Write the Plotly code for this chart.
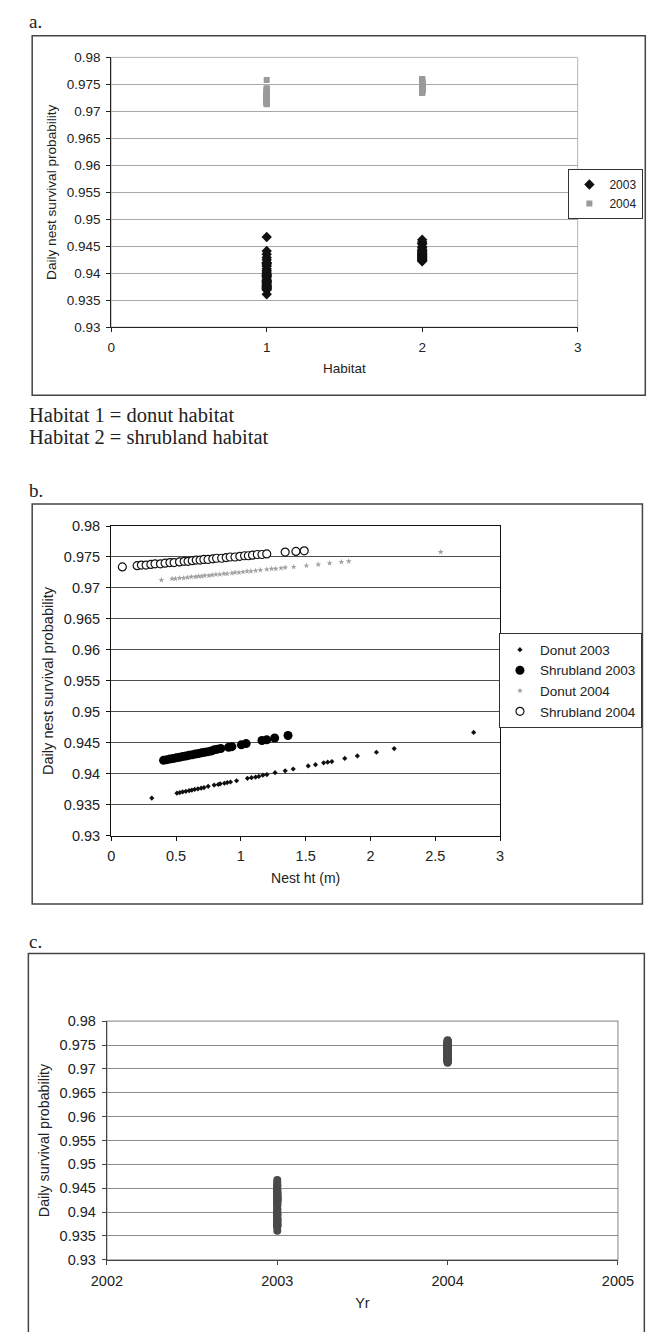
import plotly.graph_objects as go

# ---------------- data ----------------
# Panel b: nest height (m) and daily nest survival probability
donut03_ht = [0.313, 0.507, 0.529, 0.551, 0.576, 0.601, 0.622, 0.644, 0.669, 0.694,
              0.716, 0.748, 0.794, 0.826, 0.841, 0.873, 0.895, 0.920, 0.967, 1.051,
              1.082, 1.114, 1.139, 1.170, 1.201, 1.264, 1.342, 1.404, 1.520, 1.576,
              1.639, 1.670, 1.702, 1.802, 1.899, 2.046, 2.183, 2.796]
donut03_dsr = [0.9361, 0.9369, 0.9370, 0.9371, 0.9372, 0.9373, 0.9374, 0.9375, 0.9376, 0.9377,
               0.9378, 0.9380, 0.9382, 0.9383, 0.9384, 0.9385, 0.9386, 0.9387, 0.9389, 0.9393,
               0.9394, 0.9395, 0.9396, 0.9398, 0.9399, 0.9402, 0.9405, 0.9408, 0.9413, 0.9415,
               0.9418, 0.9419, 0.9420, 0.9425, 0.9429, 0.9435, 0.9441, 0.9467]

shrub03_ht = [0.404, 0.429, 0.453, 0.478, 0.502, 0.527, 0.551, 0.576, 0.600, 0.625,
              0.649, 0.674, 0.698, 0.722, 0.747, 0.771, 0.796, 0.820, 0.845, 0.906,
              0.931, 1.004, 1.041, 1.163, 1.200, 1.261, 1.364]
shrub03_dsr = [0.9422, 0.9423, 0.9424, 0.9425, 0.9426, 0.9427, 0.9428, 0.9429, 0.9430, 0.9431,
               0.9432, 0.9433, 0.9434, 0.9435, 0.9436, 0.9437, 0.9439, 0.9440, 0.9441, 0.9443,
               0.9444, 0.9447, 0.9449, 0.9454, 0.9455, 0.9458, 0.9462]

donut04_ht = [0.387, 0.470, 0.495, 0.527, 0.558, 0.588, 0.617, 0.649, 0.674, 0.698,
              0.722, 0.754, 0.779, 0.808, 0.838, 0.869, 0.894, 0.931, 0.955, 0.985,
              1.016, 1.048, 1.078, 1.114, 1.151, 1.200, 1.237, 1.269, 1.310, 1.342,
              1.408, 1.506, 1.597, 1.685, 1.776, 1.832, 2.542]
donut04_dsr = [0.9713, 0.9715, 0.9715, 0.9716, 0.9716, 0.9717, 0.9718, 0.9718, 0.9719, 0.9719,
               0.9720, 0.9720, 0.9721, 0.9722, 0.9722, 0.9723, 0.9723, 0.9724, 0.9725, 0.9725,
               0.9726, 0.9727, 0.9727, 0.9728, 0.9729, 0.9730, 0.9731, 0.9731, 0.9732, 0.9733,
               0.9734, 0.9736, 0.9738, 0.9740, 0.9742, 0.9743, 0.9758]

shrub04_ht = [0.086, 0.200, 0.233, 0.269, 0.306, 0.338, 0.380, 0.416, 0.453, 0.485,
              0.527, 0.563, 0.593, 0.625, 0.656, 0.686, 0.715, 0.747, 0.784, 0.813,
              0.852, 0.887, 0.918, 0.955, 0.992, 1.029, 1.058, 1.090, 1.127, 1.163,
              1.200, 1.342, 1.425, 1.489]
shrub04_dsr = [0.9734, 0.9736, 0.9737, 0.9737, 0.9738, 0.9739, 0.9739, 0.9740, 0.9741, 0.9741,
               0.9742, 0.9743, 0.9743, 0.9744, 0.9745, 0.9745, 0.9746, 0.9746, 0.9747, 0.9748,
               0.9748, 0.9749, 0.9750, 0.9750, 0.9751, 0.9752, 0.9752, 0.9753, 0.9754, 0.9754,
               0.9755, 0.9758, 0.9759, 0.9760]

# category codes
habitat_donut = 1
habitat_shrub = 2
year_2003 = 2003
year_2004 = 2004

# tick labels
y_tickvals = [0.93, 0.935, 0.94, 0.945, 0.95, 0.955, 0.96, 0.965, 0.97, 0.975, 0.98]
y_ticktext = ["0.93", "0.935", "0.94", "0.945", "0.95", "0.955", "0.96", "0.965", "0.97", "0.975", "0.98"]
hab_ticks = [0, 1, 2, 3]
ht_ticks = [0, 0.5, 1, 1.5, 2, 2.5, 3]
ht_ticktext = ["0", "0.5", "1", "1.5", "2", "2.5", "3"]
yr_ticks = [2002, 2003, 2004, 2005]

# ---------------- layout helpers ----------------
W, H = 667, 1332
def fx(px):
    return px / W
def fy(py):
    return 1 - py / H

SANS = "Liberation Sans, Arial, sans-serif"
SERIF = "Liberation Serif, Times New Roman, serif"

fig = go.Figure()

# ---- Panel a ----
fig.add_trace(go.Scatter(
    x=[habitat_donut] * len(donut03_dsr) + [habitat_shrub] * len(shrub03_dsr),
    y=donut03_dsr + shrub03_dsr, mode="markers", name="2003",
    marker=dict(symbol="diamond", size=8, color="#111111"),
    xaxis="x", yaxis="y", legend="legend"))
fig.add_trace(go.Scatter(
    x=[habitat_donut] * len(donut04_dsr) + [habitat_shrub] * len(shrub04_dsr),
    y=donut04_dsr + shrub04_dsr, mode="markers", name="2004",
    marker=dict(symbol="square", size=6, color="#9a9a9a"),
    xaxis="x", yaxis="y", legend="legend"))

# ---- Panel b ----
fig.add_trace(go.Scatter(x=donut03_ht, y=donut03_dsr, mode="markers", name="Donut 2003",
                         marker=dict(symbol="diamond", size=4, color="#111111"),
                         xaxis="x2", yaxis="y2", legend="legend2"))
fig.add_trace(go.Scatter(x=shrub03_ht, y=shrub03_dsr, mode="markers", name="Shrubland 2003",
                         marker=dict(symbol="circle", size=9, color="#000000"),
                         xaxis="x2", yaxis="y2", legend="legend2"))
fig.add_trace(go.Scatter(x=donut04_ht, y=donut04_dsr, mode="markers", name="Donut 2004",
                         marker=dict(symbol="star", size=4.5, color="#a0a0a0"),
                         xaxis="x2", yaxis="y2", legend="legend2"))
fig.add_trace(go.Scatter(x=shrub04_ht, y=shrub04_dsr, mode="markers", name="Shrubland 2004",
                         marker=dict(symbol="circle", size=8, color="white",
                                     line=dict(color="#111111", width=1.2)),
                         xaxis="x2", yaxis="y2", legend="legend2"))

# ---- Panel c ----
fig.add_trace(go.Scatter(
    x=[year_2003] * (len(donut03_dsr) + len(shrub03_dsr)) + [year_2004] * (len(donut04_dsr) + len(shrub04_dsr)),
    y=donut03_dsr + shrub03_dsr + donut04_dsr + shrub04_dsr, mode="markers", name="DSR",
    marker=dict(symbol="circle", size=8, color="#4a4a4a"),
    xaxis="x3", yaxis="y3", showlegend=False))

tickfont_a = dict(family=SANS, size=13.5, color="#222222")
tickfont_b = dict(family=SANS, size=14.5, color="#222222")
tickfont_c = dict(family=SANS, size=14.5, color="#222222")

common_x = dict(showgrid=False, zeroline=False, showline=True, ticks="outside", ticklen=4,
                tickwidth=1)
common_y = dict(zeroline=False, showline=True, ticks="outside", ticklen=4, tickwidth=1,
                tickvals=y_tickvals, ticktext=y_ticktext, range=[0.93, 0.98])

fig.update_layout(
    width=W, height=H, autosize=False,
    margin=dict(l=0, r=0, t=0, b=0),
    paper_bgcolor="white", plot_bgcolor="white",
    font=dict(family=SANS, color="#222222"),
    # panel a
    xaxis=dict(common_x, domain=[fx(100), fx(590)], range=[0, 3], tickvals=hab_ticks,
               anchor="y", linecolor="#222222", tickcolor="#222222", tickfont=tickfont_a,
               ticklabelstandoff=4,
               title=dict(text="Habitat", font=dict(family=SANS, size=13.5), standoff=9)),
    yaxis=dict(common_y, domain=[fy(323), fy(50)], anchor="x", linecolor="#222222",
               tickcolor="#222222", gridcolor="#a8a8a8", gridwidth=1, tickfont=tickfont_a,
               ticklabelstandoff=3,
               title=dict(text="Daily nest survival probability",
                          font=dict(family=SANS, size=13.6), standoff=6)),
    # panel b
    xaxis2=dict(common_x, domain=[fx(100), fx(508.5)], range=[0, 3], tickvals=ht_ticks,
                ticktext=ht_ticktext, anchor="y2", linecolor="#111111", tickcolor="#111111",
                mirror=True, linewidth=1.3, tickfont=tickfont_b, ticklabelstandoff=3,
                title=dict(text="Nest ht (m)", font=dict(family=SANS, size=14), standoff=9)),
    yaxis2=dict(common_y, domain=[fy(838), fy(524.3)], anchor="x2", linecolor="#111111",
                tickcolor="#111111", mirror=True, linewidth=1.3, gridcolor="#505050",
                gridwidth=1.4, tickfont=tickfont_b, ticklabelstandoff=3,
                title=dict(text="Daily nest survival probability",
                           font=dict(family=SANS, size=14.6), standoff=6)),
    # panel c
    xaxis3=dict(common_x, domain=[fx(95.5), fx(632.3)], range=[2002, 2005], tickvals=yr_ticks,
                anchor="y3", linecolor="#444444", tickcolor="#444444", linewidth=1.3,
                tickfont=tickfont_c, ticklabelstandoff=4,
                title=dict(text="Yr", font=dict(family=SANS, size=14.5), standoff=9)),
    yaxis3=dict(common_y, domain=[fy(1267), fy(1025.5)], anchor="x3", linecolor="#444444",
                tickcolor="#444444", linewidth=1.3, gridcolor="#8c8c8c", gridwidth=1.3,
                tickfont=tickfont_c, ticklabelstandoff=3,
                title=dict(text="Daily survival probability",
                           font=dict(family=SANS, size=14.3), standoff=6)),
    legend=dict(x=fx(659), y=fy(163), xanchor="right", yanchor="top",
                bordercolor="#333333", borderwidth=1, bgcolor="white",
                font=dict(family=SANS, size=12, color="#222222"),
                itemwidth=30, tracegroupgap=0),
    legend2=dict(x=fx(657.5), y=fy(633), xanchor="right", yanchor="top",
                 bordercolor="#333333", borderwidth=1, bgcolor="white",
                 font=dict(family=SANS, size=13.5, color="#222222"),
                 itemwidth=30, tracegroupgap=0),
)

shapes = [
    # outer frames
    dict(type="rect", xref="paper", yref="paper", x0=fx(17), x1=fx(661), y0=fy(392), y1=fy(28),
         line=dict(color="#444444", width=1.5), layer="below"),
    dict(type="rect", xref="paper", yref="paper", x0=fx(17), x1=fx(658), y0=fy(907), y1=fy(502),
         line=dict(color="#444444", width=1.5), layer="below"),
    dict(type="rect", xref="paper", yref="paper", x0=fx(13), x1=fx(660), y0=fy(1345), y1=fy(957),
         line=dict(color="#444444", width=1.5), layer="below"),
    # light top/right plot borders for panels a and c
    dict(type="rect", xref="x domain", yref="y domain", x0=0, x1=1, y0=0, y1=1,
         line=dict(color="#b5b5b5", width=1), layer="below"),
    dict(type="rect", xref="x3 domain", yref="y3 domain", x0=0, x1=1, y0=0, y1=1,
         line=dict(color="#9a9a9a", width=1.2), layer="below"),
]

annotations = [
    dict(text="a.", x=fx(12), y=fy(14), xref="paper", yref="paper", xanchor="left",
         yanchor="middle", showarrow=False, font=dict(family=SERIF, size=19, color="#222222")),
    dict(text="b.", x=fx(12), y=fy(488), xref="paper", yref="paper", xanchor="left",
         yanchor="middle", showarrow=False, font=dict(family=SERIF, size=19, color="#222222")),
    dict(text="c.", x=fx(12), y=fy(945), xref="paper", yref="paper", xanchor="left",
         yanchor="middle", showarrow=False, font=dict(family=SERIF, size=19, color="#222222")),
    dict(text="Habitat 1 = donut habitat", x=fx(12), y=fy(412), xref="paper", yref="paper",
         xanchor="left", yanchor="middle", showarrow=False,
         font=dict(family=SERIF, size=20.5, color="#222222")),
    dict(text="Habitat 2 = shrubland habitat", x=fx(12), y=fy(434), xref="paper", yref="paper",
         xanchor="left", yanchor="middle", showarrow=False,
         font=dict(family=SERIF, size=20.5, color="#222222")),
]

fig.update_layout(shapes=shapes, annotations=annotations)

fig.write_html("out.html", config={"displayModeBar": False},
               post_script="document.body.style.margin='0';")
